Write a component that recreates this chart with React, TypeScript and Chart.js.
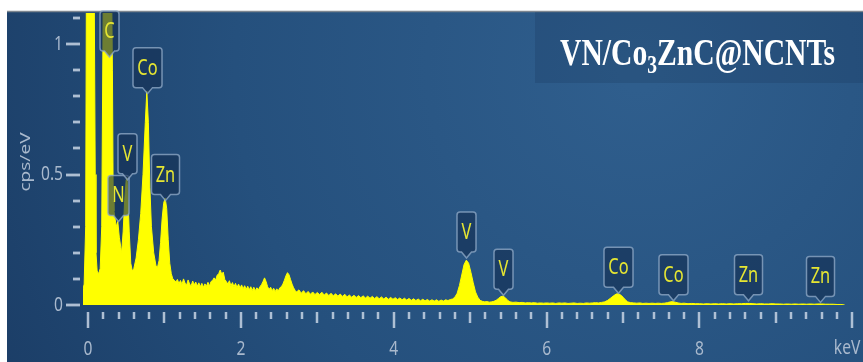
import { useEffect, useRef } from 'react';
import { Chart, registerables } from 'chart.js';

Chart.register(...registerables);

// ---- Spectrum data (energy in keV, intensity in cps/eV) ----
const lowBandKeV = [
  -0.065, -0.05, -0.03, -0.02, 0.0, 0.05, 0.08, 0.095, 0.105, 0.12, 0.14, 0.16, 0.18, 0.2, 0.22, 0.3,
  0.32, 0.33, 0.34, 0.35, 0.37, 0.39, 0.41, 0.43, 0.44, 0.46, 0.48, 0.5, 0.51, 0.52, 0.54, 0.56,
  0.58, 0.6, 0.63, 0.66, 0.69, 0.72, 0.75, 0.77, 0.79, 0.81, 0.83, 0.86, 0.89, 0.91, 0.93, 0.95,
  0.97, 0.99, 1.01, 1.03, 1.05, 1.07, 1.09, 1.11, 1.13,
];
const lowBandCps = [
  0.06, 0.08, 0.3, 1.3, 1.5, 1.5, 1.3, 0.5, 0.2, 0.13, 0.12, 0.14, 0.3, 1.2, 1.5, 1.5,
  0.9, 0.4, 0.36, 0.34, 0.3, 0.32, 0.26, 0.22, 0.2, 0.28, 0.4, 0.48, 0.49, 0.44, 0.28, 0.16,
  0.13, 0.14, 0.18, 0.25, 0.35, 0.5, 0.7, 0.82, 0.7, 0.45, 0.3, 0.2, 0.15, 0.145, 0.17, 0.24,
  0.33, 0.39, 0.41, 0.37, 0.25, 0.16, 0.12, 0.1, 0.095,
];

const midBandKeV = [
  1.15, 1.17, 1.19, 1.21, 1.23, 1.25, 1.27, 1.29, 1.31, 1.33, 1.35, 1.37, 1.39, 1.41, 1.43, 1.45,
  1.47, 1.49, 1.51, 1.53, 1.55, 1.57, 1.59, 1.61, 1.63, 1.65, 1.67, 1.69, 1.71, 1.73, 1.75, 1.77,
  1.79, 1.81, 1.83, 1.85, 1.87, 1.89, 1.91, 1.93, 1.95, 1.97, 1.99, 2.01, 2.03, 2.05, 2.07, 2.09,
  2.11, 2.13, 2.15, 2.17, 2.19, 2.21, 2.23, 2.25, 2.27, 2.29, 2.31, 2.33, 2.35, 2.37, 2.39, 2.41,
  2.43, 2.45, 2.47, 2.49, 2.51, 2.53, 2.55, 2.57, 2.59, 2.61, 2.63, 2.65, 2.67, 2.69, 2.71, 2.73,
  2.76, 2.79, 2.82, 2.85, 2.88, 2.91, 2.94, 2.97, 3.0,
];
const midBandCps = [
  0.088, 0.098, 0.082, 0.094, 0.079, 0.1, 0.084, 0.076, 0.096, 0.08, 0.074, 0.092, 0.077, 0.088, 0.072, 0.085,
  0.07, 0.083, 0.068, 0.081, 0.072, 0.087, 0.073, 0.09, 0.094, 0.104, 0.096, 0.114, 0.12, 0.134, 0.118, 0.126,
  0.098, 0.09, 0.08, 0.093, 0.074, 0.086, 0.07, 0.083, 0.067, 0.08, 0.065, 0.077, 0.062, 0.074, 0.06, 0.072,
  0.058, 0.07, 0.056, 0.068, 0.055, 0.066, 0.058, 0.07, 0.078, 0.09, 0.104, 0.09, 0.07, 0.06, 0.068, 0.055,
  0.064, 0.052, 0.062, 0.054, 0.066, 0.07, 0.08, 0.095, 0.112, 0.124, 0.116, 0.098, 0.08, 0.066, 0.056, 0.05,
  0.058, 0.045, 0.055, 0.043, 0.052, 0.041, 0.05, 0.04, 0.048,
];

const highBandKeV = [
  3.03, 3.06, 3.09, 3.12, 3.15, 3.18, 3.21, 3.24, 3.27, 3.3, 3.33, 3.36, 3.39, 3.42, 3.45, 3.48,
  3.51, 3.54, 3.57, 3.6, 3.63, 3.66, 3.69, 3.72, 3.75, 3.78, 3.81, 3.84, 3.87, 3.9, 3.93, 3.96,
  3.99, 4.02, 4.05, 4.08, 4.11, 4.14, 4.17, 4.2, 4.23, 4.26, 4.29, 4.32, 4.35, 4.38, 4.41, 4.44,
  4.47, 4.5, 4.53, 4.56, 4.59, 4.62, 4.65, 4.68, 4.71, 4.74, 4.77, 4.8, 4.83, 4.86, 4.89, 4.92,
  4.95, 4.98, 5.01, 5.04, 5.07, 5.1, 5.13, 5.16, 5.19, 5.22, 5.25, 5.28, 5.31, 5.34, 5.37, 5.4,
  5.43, 5.46, 5.49, 5.52,
];
const highBandCps = [
  0.04, 0.049, 0.038, 0.046, 0.036, 0.045, 0.035, 0.043, 0.034, 0.042, 0.033, 0.041, 0.031, 0.038, 0.03, 0.037,
  0.029, 0.036, 0.028, 0.035, 0.027, 0.034, 0.026, 0.033, 0.025, 0.032, 0.024, 0.031, 0.023, 0.03, 0.022, 0.029,
  0.022, 0.028, 0.021, 0.027, 0.02, 0.026, 0.019, 0.025, 0.018, 0.024, 0.017, 0.023, 0.016, 0.022, 0.016, 0.021,
  0.015, 0.02, 0.015, 0.02, 0.014, 0.019, 0.015, 0.02, 0.017, 0.021, 0.023, 0.03, 0.045, 0.075, 0.115, 0.155,
  0.172, 0.16, 0.125, 0.085, 0.05, 0.03, 0.018, 0.014, 0.012, 0.013, 0.011, 0.012, 0.014, 0.018, 0.025, 0.032,
  0.034, 0.028, 0.018, 0.012,
];

const tailBandKeV = [
  5.56, 5.6, 5.64, 5.68, 5.72, 5.76, 5.8, 5.84, 5.88, 5.92, 5.96, 6.0, 6.04, 6.08, 6.12, 6.16,
  6.2, 6.24, 6.28, 6.32, 6.36, 6.4, 6.44, 6.48, 6.52, 6.56, 6.6, 6.64, 6.68, 6.72, 6.76, 6.8,
  6.84, 6.88, 6.91, 6.94, 6.97, 7.0, 7.03, 7.06, 7.1, 7.14, 7.18, 7.22, 7.26, 7.3, 7.34, 7.38,
  7.42, 7.46, 7.5, 7.54, 7.58, 7.62, 7.65, 7.68, 7.72, 7.76, 7.8, 7.85, 7.9, 7.95, 8.0, 8.05,
  8.1, 8.15, 8.2, 8.25, 8.3, 8.35, 8.4, 8.45, 8.5, 8.55, 8.6, 8.65, 8.7, 8.75, 8.8, 8.85,
  8.9, 8.95, 9.0, 9.05, 9.1, 9.15, 9.2, 9.25, 9.3, 9.35, 9.4, 9.45, 9.5, 9.55, 9.6, 9.65,
  9.7, 9.75, 9.8, 9.85, 9.9,
];
const tailBandCps = [
  0.01, 0.011, 0.009, 0.01, 0.008, 0.009, 0.008, 0.009, 0.007, 0.008, 0.007, 0.008, 0.007, 0.008, 0.006, 0.008,
  0.007, 0.008, 0.006, 0.007, 0.008, 0.006, 0.007, 0.006, 0.008, 0.007, 0.008, 0.009, 0.008, 0.01, 0.012, 0.018,
  0.027, 0.036, 0.042, 0.043, 0.038, 0.03, 0.02, 0.012, 0.009, 0.008, 0.007, 0.008, 0.006, 0.007, 0.006, 0.007,
  0.006, 0.007, 0.006, 0.007, 0.009, 0.012, 0.013, 0.011, 0.008, 0.006, 0.007, 0.005, 0.006, 0.005, 0.005, 0.004,
  0.005, 0.004, 0.005, 0.004, 0.005, 0.004, 0.005, 0.004, 0.005, 0.005, 0.006, 0.006, 0.005, 0.004, 0.005, 0.004,
  0.004, 0.005, 0.004, 0.004, 0.003, 0.004, 0.003, 0.004, 0.003, 0.004, 0.003, 0.004, 0.003, 0.004, 0.004, 0.003,
  0.003, 0.003, 0.002, 0.002, 0,
];

// ---- Axis text ----
const xTickValues = [0, 2, 4, 6, 8];
const xTickLabels = ['0', '2', '4', '6', '8'];
const xUnitLabel = 'keV';
const xUnitValue = 10;
const yTickValues = [0, 0.5, 1];
const yTickLabels = ['0', '0.5', '1'];
const yTitle = 'cps/eV';

// ---- Element line markers ----
const markerNames = ['C', 'N', 'V', 'Co', 'Zn', 'V', 'V', 'Co', 'Co', 'Zn', 'Zn'];
const markerKeV = [0.277, 0.392, 0.511, 0.776, 1.012, 4.952, 5.427, 6.93, 7.649, 8.638, 9.572];
const markerLevels = [0.95, 0.32, 0.48, 0.81, 0.4, 0.18, 0.037, 0.045, 0.016, 0.016, 0.01];

// ---- Sample name ----
const titleHead = 'VN/Co';
const titleSub = '3';
const titleTail = 'ZnC@NCNTs';

const W = 863;
const H = 362;
const SQUEEZE = 0.78;
const AXIS_TEXT = '#a9b9cd';
const TICK = 'rgba(190,204,222,0.9)';
const SPECTRUM = '#ffff00';

function squeezedText(
  ctx: CanvasRenderingContext2D,
  text: string,
  x: number,
  y: number,
  align: CanvasTextAlign,
  baseline: CanvasTextBaseline,
) {
  ctx.save();
  ctx.translate(x, y);
  ctx.scale(SQUEEZE, 1);
  ctx.textAlign = align;
  ctx.textBaseline = baseline;
  ctx.fillText(text, 0, 0);
  ctx.restore();
}

const panelPlugin = {
  id: 'panel',
  beforeDraw(chart: any) {
    const ctx: CanvasRenderingContext2D = chart.ctx;
    ctx.save();
    ctx.fillStyle = '#ffffff';
    ctx.fillRect(0, 0, W, H);
    const g = ctx.createRadialGradient(640, 70, 20, 640, 70, 720);
    g.addColorStop(0, '#2f5e8d');
    g.addColorStop(0.55, '#25507d');
    g.addColorStop(1, '#1b3d66');
    ctx.fillStyle = g;
    ctx.fillRect(7, 12, W - 7, H - 12);
    ctx.strokeStyle = '#7d8690';
    ctx.lineWidth = 1.5;
    ctx.beginPath();
    ctx.moveTo(7, 11.5);
    ctx.lineTo(W, 11.5);
    ctx.stroke();
    ctx.restore();
  },
};

const axesPlugin = {
  id: 'edsAxes',
  afterDraw(chart: any) {
    const ctx: CanvasRenderingContext2D = chart.ctx;
    const xs = chart.scales.x;
    const ys = chart.scales.y;
    const base = ys.getPixelForValue(0);
    ctx.save();
    ctx.strokeStyle = TICK;
    ctx.lineCap = 'butt';

    // energy ticks every 0.2 keV
    ctx.lineWidth = 2.5;
    for (let i = 0; i <= 50; i++) {
      const px = Math.round(xs.getPixelForValue(i * 0.2));
      const len = i % 10 === 0 ? 16 : i % 5 === 0 ? 11 : 7;
      ctx.beginPath();
      ctx.moveTo(px, base + 7);
      ctx.lineTo(px, base + 7 + len);
      ctx.stroke();
    }

    // intensity ticks every 0.1
    ctx.lineWidth = 2.8;
    for (let i = 0; i <= 11; i++) {
      const py = Math.round(ys.getPixelForValue(i * 0.1));
      const len = i % 5 === 0 ? 14 : 7;
      ctx.beginPath();
      ctx.moveTo(80, py);
      ctx.lineTo(80 - len, py);
      ctx.stroke();
    }

    ctx.fillStyle = AXIS_TEXT;
    ctx.font = '20px "Noto Sans"';
    xTickValues.forEach((v, i) => {
      squeezedText(ctx, xTickLabels[i], xs.getPixelForValue(v), base + 44, 'center', 'middle');
    });
    squeezedText(ctx, xUnitLabel, xs.getPixelForValue(xUnitValue) + 8, base + 43, 'right', 'middle');
    yTickValues.forEach((v, i) => {
      squeezedText(ctx, yTickLabels[i], 63, ys.getPixelForValue(v), 'right', 'middle');
    });

    // rotated axis title
    ctx.save();
    ctx.translate(26, 162);
    ctx.rotate(-Math.PI / 2);
    ctx.scale(1, SQUEEZE);
    ctx.font = '19px "Noto Sans"';
    ctx.textAlign = 'center';
    ctx.textBaseline = 'middle';
    ctx.fillText(yTitle, 0, 0);
    ctx.restore();

    // sample name
    ctx.fillStyle = 'rgba(16,38,70,0.18)';
    ctx.fillRect(535, 12, W - 535, 71);
    ctx.fillStyle = '#ffffff';
    ctx.textBaseline = 'alphabetic';
    ctx.textAlign = 'left';
    ctx.save();
    ctx.translate(560, 65);
    ctx.scale(SQUEEZE, 1);
    ctx.font = 'bold 38px "Liberation Serif"';
    ctx.fillText(titleHead, 0, 0);
    let cx = ctx.measureText(titleHead).width;
    ctx.font = 'bold 25px "Liberation Serif"';
    ctx.fillText(titleSub, cx, 8);
    cx += ctx.measureText(titleSub).width;
    ctx.font = 'bold 38px "Liberation Serif"';
    ctx.fillText(titleTail, cx, 0);
    ctx.restore();

    ctx.restore();
  },
};

const markerPlugin = {
  id: 'lineMarkers',
  afterDatasetsDraw(chart: any) {
    const ctx: CanvasRenderingContext2D = chart.ctx;
    const xs = chart.scales.x;
    const ys = chart.scales.y;
    ctx.save();
    ctx.font = '21px "Noto Sans"';
    markerNames.forEach((name, i) => {
      const cx = Math.round(xs.getPixelForValue(markerKeV[i])) + 0.5;
      const tip = ys.getPixelForValue(markerLevels[i]);
      const tw = ctx.measureText(name).width * SQUEEZE;
      const w = Math.round(tw + 9);
      const h = 40;
      const b = tip - 6;
      const t = b - h;
      const l = cx - w / 2;
      const r = cx + w / 2;
      const rad = 3;
      ctx.beginPath();
      ctx.moveTo(l + rad, t);
      ctx.lineTo(r - rad, t);
      ctx.arcTo(r, t, r, t + rad, rad);
      ctx.lineTo(r, b - rad);
      ctx.arcTo(r, b, r - rad, b, rad);
      ctx.lineTo(cx + 5, b);
      ctx.lineTo(cx, tip);
      ctx.lineTo(cx - 5, b);
      ctx.lineTo(l + rad, b);
      ctx.arcTo(l, b, l, b - rad, rad);
      ctx.lineTo(l, t + rad);
      ctx.arcTo(l, t, l + rad, t, rad);
      ctx.closePath();
      ctx.fillStyle = 'rgba(20,46,82,0.62)';
      ctx.fill();
      ctx.strokeStyle = 'rgba(140,166,196,0.8)';
      ctx.lineWidth = 1.5;
      ctx.stroke();
      ctx.fillStyle = '#e6e632';
      squeezedText(ctx, name, cx, t + h / 2 + 1, 'center', 'middle');
    });
    ctx.restore();
  },
};

export default function App() {
  const canvasRef = useRef<HTMLCanvasElement | null>(null);

  useEffect(() => {
    const canvas = canvasRef.current;
    if (!canvas) return;
    const energies = [...lowBandKeV, ...midBandKeV, ...highBandKeV, ...tailBandKeV];
    const counts = [...lowBandCps, ...midBandCps, ...highBandCps, ...tailBandCps];
    const points = energies.map((e, i) => ({ x: e, y: counts[i] }));

    const chart = new Chart(canvas, {
      type: 'line',
      data: {
        datasets: [
          {
            data: points,
            borderColor: SPECTRUM,
            backgroundColor: SPECTRUM,
            borderWidth: 1,
            pointRadius: 0,
            fill: 'origin',
            tension: 0,
          },
        ],
      },
      options: {
        animation: false,
        responsive: false,
        maintainAspectRatio: false,
        devicePixelRatio: 1,
        layout: { padding: { left: 83, right: 3, top: 13, bottom: 57 } },
        scales: {
          x: { type: 'linear', min: -0.065, max: 10.1, display: false },
          y: { type: 'linear', min: 0, max: 1.119, display: false },
        },
        plugins: {
          legend: { display: false },
          tooltip: { enabled: false },
        },
      },
      plugins: [panelPlugin, markerPlugin, axesPlugin],
    });
    return () => chart.destroy();
  }, []);

  return (
    <div style={{ position: 'fixed', left: 0, top: 0, width: W, height: H }}>
      <canvas ref={canvasRef} width={W} height={H} style={{ display: 'block', width: W, height: H }} />
    </div>
  );
}
